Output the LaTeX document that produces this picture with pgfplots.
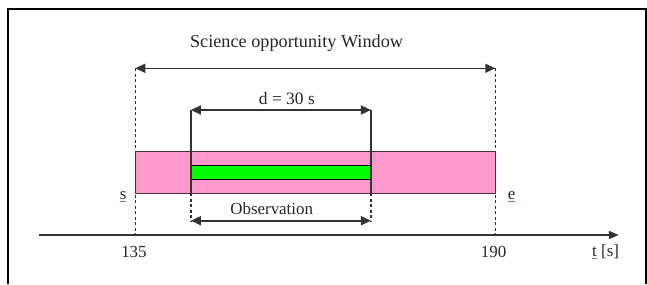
\documentclass[border=0pt]{standalone}
\usepackage{pgfplots}
\pgfplotsset{compat=1.18}
\usepackage{fontspec}
\setmainfont{Liberation Serif}
\usetikzlibrary{arrows.meta}
\definecolor{pinkfill}{HTML}{FF99CC}
\definecolor{greenfill}{HTML}{00FF00}
\definecolor{ln}{HTML}{333333}
\newcommand{\ul}[1]{{\color{green!45!black!70}\underline{\color{black!85}#1}}}
\tikzset{
  lab/.style={font=\fontsize{17}{20}\selectfont, text=black!85, inner sep=0pt},
  tip/.tip={Triangle[length=10bp,width=9bp]},
  arr/.style={ln, line width=1.6bp, tip-tip},
}
\begin{document}
\begin{tikzpicture}
\begin{axis}[
  scale only axis, width=647bp, height=284bp,
  xmin=114.33, xmax=213.18, ymin=0, ymax=284, y dir=reverse,
  axis lines=none, clip=false,
]
\path (rel axis cs:0,0) rectangle (rel axis cs:1,1);
% frame
\addplot[black, line width=1.8bp] coordinates {(115.55,284) (115.55,9) (213.03,9) (213.03,284)};
% pink window
\addplot[fill=pinkfill, draw=black!70!pinkfill, line width=1.2bp] coordinates {(135,151.7) (190,151.7) (190,193.3) (135,193.3)} -- cycle;
% green observation
\addplot[fill=greenfill, draw=black, line width=1.2bp] coordinates {(143.5,165.7) (171,165.7) (171,179.3) (143.5,179.3)} -- cycle;
% dashed verticals at s and e
\addplot[ln, line width=1.4bp, dash pattern=on 3bp off 2.5bp] coordinates {(135,68.3) (135,235)};
\addplot[ln, line width=1.4bp, dash pattern=on 3bp off 2.5bp] coordinates {(190,68.3) (190,235)};
% solid verticals of observation
\addplot[ln, line width=1.5bp] coordinates {(143.5,110) (143.5,193.3)};
\addplot[ln, line width=1.5bp] coordinates {(171,110) (171,193.3)};
% dashed verticals below
\addplot[ln, line width=1.4bp, dash pattern=on 3bp off 2.5bp] coordinates {(143.5,193.3) (143.5,221)};
\addplot[ln, line width=1.4bp, dash pattern=on 3bp off 2.5bp] coordinates {(171,193.3) (171,221)};
% arrows
\addplot[arr] coordinates {(135,68.3) (190,68.3)};
\addplot[arr] coordinates {(143.5,110) (171,110)};
\addplot[arr] coordinates {(143.5,220.7) (171,220.7)};
% time axis
\addplot[ln, line width=1.8bp, -{Triangle[length=10bp,width=8bp]}] coordinates {(120.29,235) (208.87,235)};
% labels
\node[lab, font=\fontsize{18.3}{21}\selectfont] at (axis cs:159.64,43) {Science opportunity Window};
\node[lab, font=\fontsize{17.5}{21}\selectfont] at (axis cs:158.16,99) {d = 30 s};
\node[lab] at (axis cs:155.84,209) {Observation};
\node[lab] at (axis cs:133.14,197) {\ul{s}};
\node[lab] at (axis cs:192.48,197) {\ul{e}};
\node[lab] at (axis cs:134.8,252) {135};
\node[lab] at (axis cs:189.75,252) {190};
\node[lab] at (axis cs:206.86,252) {\ul{t} [s]};
\end{axis}
\end{tikzpicture}
\end{document}
